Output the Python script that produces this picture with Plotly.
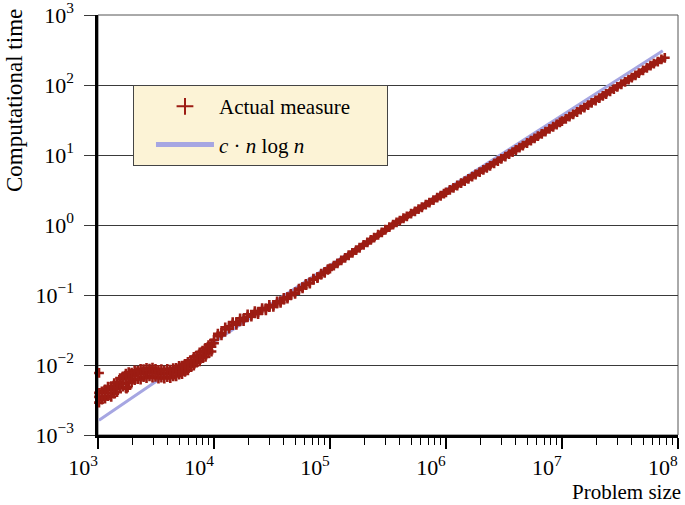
import plotly.graph_objects as go

# c * n log n reference curve
fit_n = [1020, 3000, 1e4, 3e4, 1e5, 3e5, 1e6, 3e6, 1e7, 3e7, 7.4e7]
fit_t = [0.00163, 0.00554, 0.0213, 0.0714, 0.266, 0.873, 3.19, 10.3, 37.2, 119, 309]

# measured times, small problem sizes (noisy, read as low / middle / high rows)
small_n = [1020, 1080, 1150, 1220, 1300, 1380, 1460, 1550, 1640, 1740, 1840, 1950, 2070,
           2200, 2330, 2470, 2620, 2780, 2950, 3130, 3320, 3520, 3730, 3960, 4200, 4450,
           4720, 5000, 5300, 5620, 5960, 6320, 6700, 7100, 7530, 7980, 8460, 8970, 9510]
small_lo = [.0029, .0032, .0033, .0036, .0035, .0039, .0041, .0047, .0049, .0047, .0056, .0057, .0061,
            .0063, .0062, .0067, .0065, .0069, .0066, .0068, .0064, .0066, .0064, .0067, .0065, .0069,
            .0069, .0073, .0074, .0080, .0084, .0093, .0098, .0108, .0113, .0125, .0131, .0147, .0156]
small_mid = [.0035, .0035, .0040, .0040, .0044, .0045, .0051, .0054, .0062, .0066, .0065, .0071, .0070,
             .0075, .0077, .0075, .0080, .0078, .0081, .0076, .0078, .0074, .0077, .0075, .0079, .0077,
             .0082, .0083, .0089, .0090, .0099, .0103, .0116, .0120, .0133, .0139, .0156, .0163, .0183]
small_hi = [.0040, .0042, .0045, .0049, .0050, .0055, .0057, .0065, .0069, .0075, .0079, .0078, .0084,
            .0083, .0088, .0087, .0091, .0089, .0092, .0088, .0085, .0087, .0084, .0088, .0086, .0090,
            .0091, .0097, .0098, .0104, .0111, .0117, .0131, .0137, .0152, .0160, .0175, .0192, .0204]
stray_n = [1020, 1760, 1800]
stray_t = [0.0077, 0.0046, 0.0048]

# 1e4 .. 1e5
mid_n = [1.0e4, 1.08e4, 1.16e4, 1.25e4, 1.35e4, 1.45e4, 1.56e4, 1.68e4, 1.8e4, 1.95e4, 2.1e4,
         2.25e4, 2.4e4, 2.6e4, 2.8e4, 3.0e4, 3.25e4, 3.5e4, 3.75e4, 4.0e4, 4.3e4, 4.6e4, 5.0e4,
         5.4e4, 5.8e4, 6.2e4, 6.7e4, 7.2e4, 7.8e4, 8.4e4, 9.0e4, 9.6e4]
mid_t = [.0228, .0259, .0288, .0321, .0356, .0379, .0403, .0430, .0456, .0489, .0521,
         .0547, .0570, .0610, .0642, .0671, .0717, .0761, .0812, .0861, .0932, .0992, .1087,
         .1182, .1293, .1390, .1512, .1655, .1805, .1957, .2133, .2288]
mid_t2 = [.0205, .0280, .0265, .0345, .0330, .0410, .0375, .0465, .0425, .0530, .0490,
          .0590, .0535, .0650, .0605, .0720, .0675, .0810, .0770, .0910, .0885, .1040, .1040,
          .1230, .1240, .1440, .1460, .1710, .1750, .2020, .2080, .2350]

# 1e5 .. 8e7
big_n = [1.0e5, 1.08e5, 1.16e5, 1.25e5, 1.35e5, 1.45e5, 1.56e5, 1.68e5, 1.8e5, 1.95e5, 2.1e5,
         2.25e5, 2.4e5, 2.6e5, 2.8e5, 3.0e5, 3.25e5, 3.5e5, 3.75e5, 4.0e5, 4.3e5, 4.6e5, 5.0e5,
         5.4e5, 5.8e5, 6.2e5, 6.7e5, 7.2e5, 7.8e5, 8.4e5, 9.0e5, 9.6e5,
         1.0e6, 1.08e6, 1.16e6, 1.25e6, 1.35e6, 1.45e6, 1.56e6, 1.68e6, 1.8e6, 1.95e6, 2.1e6,
         2.25e6, 2.4e6, 2.6e6, 2.8e6, 3.0e6, 3.25e6, 3.5e6, 3.75e6, 4.0e6, 4.3e6, 4.6e6, 5.0e6,
         5.4e6, 5.8e6, 6.2e6, 6.7e6, 7.2e6, 7.8e6, 8.4e6, 9.0e6, 9.6e6,
         1.0e7, 1.08e7, 1.16e7, 1.25e7, 1.35e7, 1.45e7, 1.56e7, 1.68e7, 1.8e7, 1.95e7, 2.1e7,
         2.25e7, 2.4e7, 2.6e7, 2.8e7, 3.0e7, 3.25e7, 3.5e7, 3.75e7, 4.0e7, 4.3e7, 4.6e7, 5.0e7,
         5.4e7, 5.8e7, 6.2e7, 6.7e7, 7.2e7, 7.7e7]
big_t = [0.239, 0.263, 0.284, 0.312, 0.339, 0.370, 0.400, 0.439, 0.473, 0.521, 0.564,
         0.614, 0.659, 0.726, 0.787, 0.856, 0.933, 1.011, 1.089, 1.155, 1.249, 1.329, 1.454,
         1.563, 1.688, 1.794, 1.950, 2.085, 2.271, 2.460, 2.620, 2.808,
         2.93, 3.17, 3.40, 3.67, 3.96, 4.25, 4.57, 4.92, 5.27, 5.70, 6.14,
         6.57, 7.00, 7.58, 8.16, 8.78, 9.51, 10.29, 11.01, 11.79, 12.73, 13.60, 14.86,
         16.04, 17.31, 18.58, 20.05, 21.65, 23.57, 25.35, 27.28, 29.21,
         30.5, 32.9, 35.3, 38.2, 41.2, 44.4, 47.7, 51.6, 55.5, 60.1, 65.0,
         69.9, 74.4, 81.0, 87.5, 94.2, 102.5, 110.9, 119.3, 127.7, 137.8, 148.0, 161.6,
         175.3, 189.1, 202.8, 216.0, 232.0, 245.0]

x_tickvals = [1e3, 1e4, 1e5, 1e6, 1e7, 1e8]
x_ticktext = ['10<sup>3</sup>', '10<sup>4</sup>', '10<sup>5</sup>', '10<sup>6</sup>',
              '10<sup>7</sup>', '10<sup>8</sup>']
y_tickvals = [1e-3, 1e-2, 1e-1, 1e0, 1e1, 1e2, 1e3]
y_ticktext = ['10<sup>\u22123</sup>', '10<sup>\u22122</sup>', '10<sup>\u22121</sup>', '10<sup>0</sup>',
              '10<sup>1</sup>', '10<sup>2</sup>', '10<sup>3</sup>']

RED = '#9C1C13'
BLUE = '#A6A6E2'
FONT = 'Liberation Serif, Times New Roman, serif'

meas_n = small_n * 3 + stray_n + mid_n * 2 + big_n
meas_t = small_lo + small_mid + small_hi + stray_t + mid_t + mid_t2 + big_t

minor_vals = [m * 10 ** d for d in range(3, 8) for m in range(2, 10)]

fig = go.Figure()
fig.add_trace(go.Scatter(x=fit_n, y=fit_t, mode='lines', name='<i>c</i> \u00b7 <i>n</i> log <i>n</i>',
                         line=dict(color=BLUE, width=3), legendrank=2, legendgroup='b'))
# solid core of the dense part of the measurements
fig.add_trace(go.Scatter(x=big_n, y=big_t, mode='lines', line=dict(color=RED, width=6),
                         showlegend=False, hoverinfo='skip'))
fig.add_trace(go.Scatter(x=meas_n, y=meas_t, mode='markers',
                         name='Actual measure' + '\u00a0' * 6,
                         marker=dict(symbol='cross-thin', size=7, color=RED,
                                     line=dict(color=RED, width=2.6)),
                         cliponaxis=False, legendrank=1, legendgroup='a'))

fig.update_xaxes(type='log', range=[3, 8.0004], tickvals=x_tickvals, ticktext=x_ticktext,
                 automargin=False, ticklabeloverflow='allow', ticklabelshift=-15,
                 showgrid=False, zeroline=False, showline=True, linecolor='black', linewidth=2.5,
                 ticks='outside', ticklen=11, tickwidth=1.5, tickcolor='black',
                 tickfont=dict(size=22, family=FONT),
                 minor=dict(ticks='outside', ticklen=7, tickwidth=1.2, tickcolor='black',
                            tickvals=minor_vals, showgrid=False))
fig.update_yaxes(type='log', range=[-3, 3.0004], tickvals=y_tickvals, ticktext=y_ticktext,
                 automargin=False, ticklabeloverflow='allow', ticklabelstandoff=6,
                 showgrid=True, gridcolor='#3a3a3a', gridwidth=1, zeroline=False,
                 showline=True, linecolor='black', linewidth=2.5,
                 ticks='outside', ticklen=11, tickwidth=1.2, tickcolor='#3a3a3a',
                 tickfont=dict(size=22, family=FONT))

fig.add_shape(type='rect', xref='paper', yref='paper', x0=0, y0=0, x1=1, y1=1,
              line=dict(color='#555555', width=1), layer='below')

fig.add_annotation(text='Problem size', xref='paper', yref='paper', x=1, y=0,
                   xanchor='right', yanchor='middle', xshift=5, yshift=-57,
                   showarrow=False, font=dict(size=21, family=FONT))
fig.add_annotation(text='Computational time', xref='paper', yref='paper', x=0, y=0.795,
                   xanchor='center', yanchor='middle', xshift=-84, textangle=-90,
                   showarrow=False, font=dict(size=23, family=FONT))

fig.update_layout(
    width=685, height=505,
    margin=dict(l=98, r=7, t=15, b=70, autoexpand=False),
    plot_bgcolor='white', paper_bgcolor='white',
    font=dict(family=FONT, size=21, color='black'),
    showlegend=True,
    legend=dict(x=0.0603, y=0.833, xanchor='left', yanchor='top',
                bgcolor='#FCF3D6', bordercolor='#444444', borderwidth=1,
                font=dict(size=21, family=FONT), itemwidth=58, indentation=17,
                tracegroupgap=8, itemsizing='constant'),
)

fig.write_html("out.html", config={'displayModeBar': False},
               post_script="document.body.style.margin='0px';")
